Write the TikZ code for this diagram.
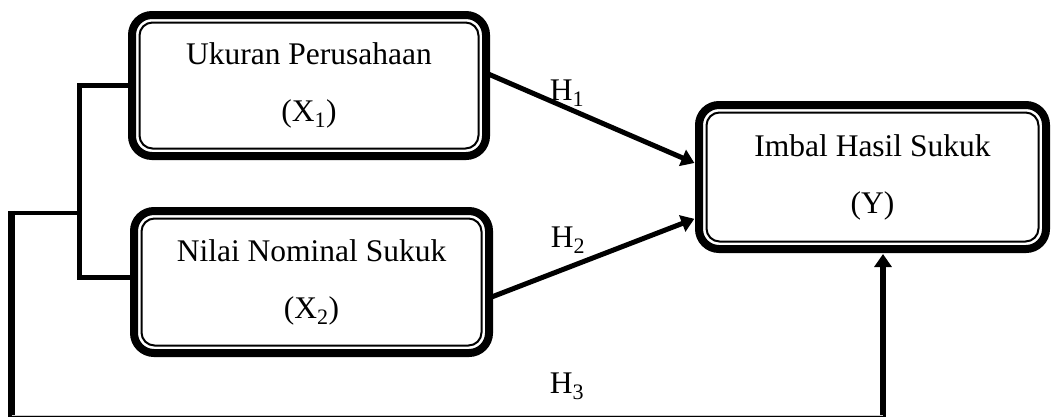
\documentclass[tikz,border=0pt]{standalone}
\usepackage{fontspec}
\setmainfont{Liberation Serif}
\usetikzlibrary{arrows.meta}
\tikzset{
  varbox/.style={draw, line width=8pt, rounded corners=20pt, align=center,
    font=\fontsize{31.5}{57}\selectfont, inner sep=0pt, outer sep=0pt},
  innerline/.style={line width=2pt, rounded corners=13pt},
  conn/.style={line width=5pt, line join=miter},
  loopline/.style={line width=6.5pt, line join=miter},
  arr/.style={-{Triangle[width=17pt,length=13pt]}},
  hlabel/.style={font=\fontsize{31.5}{38}\selectfont, inner sep=0pt}
}
\begin{document}
\begin{tikzpicture}[x=1pt,y=-1pt]
\useasboundingbox (0,0) rectangle (1051,416);
\clip (0,0) rectangle (1051,416);
\node[varbox, minimum width=354pt, minimum height=141pt] (x1) at (309,85.5)
  {Ukuran Perusahaan\\(X\textsubscript{1})};
\node[varbox, minimum width=355pt, minimum height=142pt] (x2) at (311.5,282)
  {Nilai Nominal Sukuk\\(X\textsubscript{2})};
\node[varbox, minimum width=347pt, minimum height=144pt] (y) at (872.5,177)
  {Imbal Hasil Sukuk\\(Y)};
\foreach \n in {x1,x2,y}{
  \draw[innerline] ([shift={(7.5pt,-7.5pt)}]\n.north west) rectangle ([shift={(-7.5pt,7.5pt)}]\n.south east);
}
% hypothesis arrows
\draw[conn, arr, shorten >=5pt] ([yshift=12.5pt]x1.east) -- ([yshift=12pt]y.west);
\draw[conn, arr, shorten >=5pt] ([yshift=-16pt]x2.east) -- ([yshift=-40pt]y.west);
\node[hlabel] (h1) at (567,93) {H\textsubscript{1}};
\node[hlabel] (h2) at (568,240) {H\textsubscript{2}};
\node[hlabel] (h3) at (567,386) {H\textsubscript{3}};
% bracket joining X1 and X2
\coordinate (jt) at (79.5,213);
\coordinate (jl) at (11.5,213);
\coordinate (bot) at (0,419.2);
\draw[conn] (x1.west) -| (jt) |- ([yshift=5pt]x2.west);
\draw[line width=4.5pt] (jt) -- (jl);
\draw[loopline, arr, shorten >=5pt] ([yshift=2.2pt]jl) -- (jl |- bot) -| ([xshift=10.5pt]y.south);
\draw[line width=0.6pt, gray!40] (jl |- 0,415.7) -- ([xshift=10.5pt]y.south |- 0,415.7);
\end{tikzpicture}
\end{document}
